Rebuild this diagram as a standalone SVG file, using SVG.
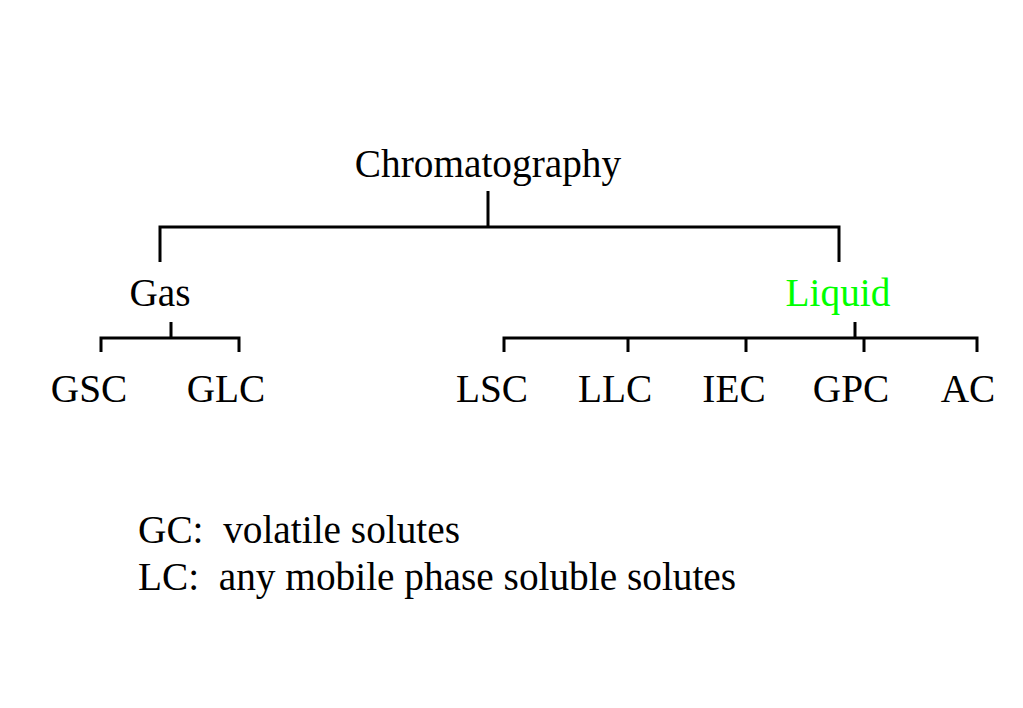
<svg xmlns="http://www.w3.org/2000/svg" width="1023" height="708" viewBox="0 0 1023 708">
<style>
text{font-family:"Liberation Serif","Times New Roman",serif;font-size:39.3px;fill:#000}
.c{text-anchor:middle}
.g{fill:#00ff00}
.ln{stroke:#000;stroke-width:3;fill:none}
</style>
<rect width="1023" height="708" fill="#fff"/>
<g id="connectors">
<path class="ln" d="M488 191V227M160 262V227H839V262"/>
<path class="ln" d="M171 322V338M101 352V338H239V352"/>
<path class="ln" d="M855 322V338M504 352V338H977V352M628 338V352M746 338V352M864 338V352"/>
</g>
<g id="chromatography"><text class="c" x="488" y="177">Chromatography</text></g>
<g id="gas"><text class="c" x="160" y="306">Gas</text></g>
<g id="liquid"><text class="c g" x="838" y="306">Liquid</text></g>
<g id="gsc"><text class="c" x="89" y="402">GSC</text></g>
<g id="glc"><text class="c" x="226" y="402">GLC</text></g>
<g id="lsc"><text class="c" x="492" y="402">LSC</text></g>
<g id="llc"><text class="c" x="615" y="402">LLC</text></g>
<g id="iec"><text class="c" x="734" y="402">IEC</text></g>
<g id="gpc"><text class="c" x="851" y="402">GPC</text></g>
<g id="ac"><text class="c" x="968" y="402">AC</text></g>
<g id="notes">
<text x="138" y="543" xml:space="preserve">GC:  volatile solutes</text>
<text x="138" y="590" xml:space="preserve">LC:  any mobile phase soluble solutes</text>
</g>
</svg>
